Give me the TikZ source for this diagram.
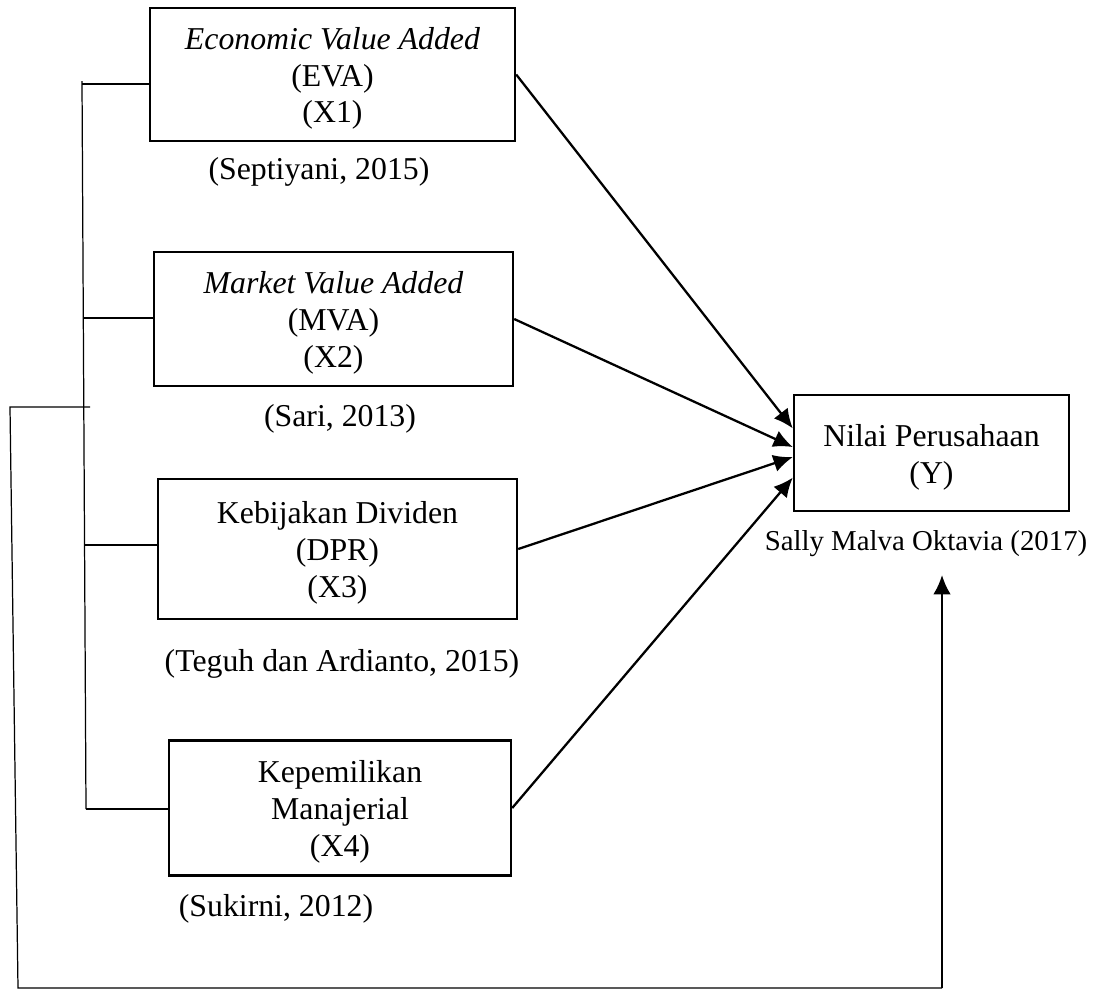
\documentclass[tikz,border=0pt]{standalone}
\usepackage{fontspec}
\setmainfont{Liberation Serif}
\usetikzlibrary{arrows.meta}
\newcommand{\topgap}{\rule{0pt}{17pt}}
\tikzstyle{var}=[draw, line width=1.4pt, align=center, inner sep=0pt, font=\fontsize{18.1}{21}\selectfont]
\tikzstyle{cite}=[inner sep=0pt, font=\fontsize{18.1}{21}\selectfont]
\tikzstyle{effect}=[line width=1.3pt, -{Latex[length=11pt,width=10pt]}]
\tikzstyle{link}=[line width=0.7pt]

\begin{document}
\begin{tikzpicture}[x = 0.02cm, y = -0.02cm]
\useasboundingbox (0,0) rectangle (1101,1002);
% Variables
    \node[var, minimum width=7.3cm, minimum height=2.66cm] (eva) at (332.5,74.5) {\topgap\textit{Economic Value Added}\\(EVA)\\(X1)};
    \node[var, minimum width=7.18cm, minimum height=2.68cm] (mva) at (333.5,319) {\topgap\textit{Market Value Added}\\(MVA)\\(X2)};
    \node[var, minimum width=7.18cm, minimum height=2.8cm] (dpr) at (337.5,549) {\topgap Kebijakan Dividen\\(DPR)\\(X3)};
    \node[var, minimum width=6.84cm, minimum height=2.7cm] (km) at (340,808) {\topgap Kepemilikan\\Manajerial\\(X4)};
    \node[var, minimum width=5.5cm, minimum height=2.32cm] (nilai) at (931.5,453) {\topgap Nilai Perusahaan\\(Y)};
% Sources
    \node[cite] (reva) at (319,172) {(Septiyani, 2015)};
    \node[cite] (rmva) at (340,419) {(Sari, 2013)};
    \node[cite] (rdpr) at (342,664) {(Teguh dan Ardianto, 2015)};
    \node[cite] (rkm) at (276,909) {(Sukirni, 2012)};
    \node[cite, font=\fontsize{16.4}{19}\selectfont] (rnilai) at (926,544) {Sally Malva Oktavia (2017)};
% Bracket
    \coordinate (b0) at (82,81);
    \coordinate (b1) at (82,84);
    \coordinate (b2) at (83,318);
    \coordinate (b3) at (85,545);
    \coordinate (b4) at (86,809);
    \draw[link] (b0) -- (b4);
    \draw[link] (b1) -- (b1 -| eva.west);
    \draw[link] (b2) -- (b2 -| mva.west);
    \draw[link] (b3) -- (b3 -| dpr.west);
    \draw[link] (b4) -- (b4 -| km.west);
% Simultaneous path
    \coordinate (fa) at (10,407);
    \coordinate (fb) at (90,407);
    \coordinate (fc) at (18,988);
    \coordinate (fd) at (942,988);
    \coordinate (fe) at (942,575);
    \draw[link] (fb) -- (fa) -- (fc) -- (fd);
    \draw[effect] (fd) -- (fe);
% Partial paths
    \draw[effect] (eva.east) -- ([yshift=14pt]nilai.west);
    \draw[effect] (mva.east) -- ([yshift=3.4pt]nilai.west);
    \draw[effect] (dpr.east) -- ([yshift=-2.3pt]nilai.west);
    \draw[effect] (km.east) -- ([yshift=-14pt]nilai.west);
\end{tikzpicture}
\end{document}
